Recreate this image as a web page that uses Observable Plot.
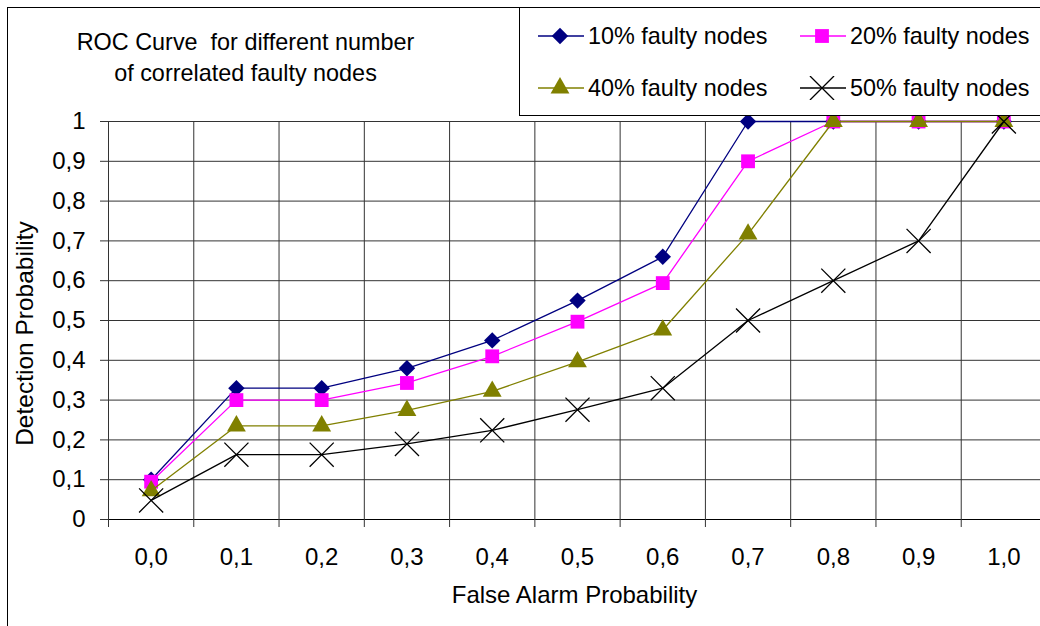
<!DOCTYPE html>
<html>
<head>
<meta charset="utf-8">
<script src="https://cdn.jsdelivr.net/npm/d3@7"></script>
<script src="https://cdn.jsdelivr.net/npm/@observablehq/plot@0.6"></script>
<style>
html, body { margin: 0; padding: 0; background: #fff; overflow: hidden; }
#wrap { position: relative; width: 1040px; height: 626px; overflow: hidden; font-family: "Liberation Sans", Arial, sans-serif; }
#frame { position: absolute; left: 7px; top: 7px; width: 1200px; height: 800px; border-left: 1px solid #000; border-top: 1px solid #000; box-sizing: border-box; }
#chart { position: absolute; left: 0; top: 0; }
#legend { position: absolute; left: 519px; top: 7px; width: 600px; height: 109px; border: 1px solid #000; box-sizing: border-box; background: #fff; }
.item { position: absolute; height: 24px; display: flex; align-items: center; font-size: 23.4px; color: #000; white-space: nowrap; }
.item svg { margin-right: 4px; }
</style>
</head>
<body>
<div id="wrap">
  <div id="frame"></div>
  <div id="chart"></div>
  <div id="legend"></div>
</div>
<script>
// ---- data ----
const falseAlarm = [0.0, 0.1, 0.2, 0.3, 0.4, 0.5, 0.6, 0.7, 0.8, 0.9, 1.0];
const seriesNames = ["10% faulty nodes", "20% faulty nodes", "40% faulty nodes", "50% faulty nodes"];
const det10 = [0.10, 0.33, 0.33, 0.38, 0.45, 0.55, 0.66, 1.00, 1.00, 1.00, 1.00];
const det20 = [0.095, 0.30, 0.30, 0.343, 0.41, 0.497, 0.594, 0.90, 1.00, 1.00, 1.00];
const det40 = [0.072, 0.235, 0.235, 0.274, 0.322, 0.396, 0.476, 0.717, 1.00, 1.00, 1.00];
const det50 = [0.048, 0.163, 0.163, 0.19, 0.224, 0.276, 0.33, 0.50, 0.60, 0.70, 1.00];
const yTicks = [0, 0.1, 0.2, 0.3, 0.4, 0.5, 0.6, 0.7, 0.8, 0.9, 1];
const xBoundaries = [-0.05, 0.05, 0.15, 0.25, 0.35, 0.45, 0.55, 0.65, 0.75, 0.85, 0.95];
const titleText = "ROC Curve  for different number\nof correlated faulty nodes";
const xTitle = "False Alarm Probability";
const yTitle = "Detection Probability";

const styles = [
  {color: "#000080", symbol: "diamond2", r: 7.4, filled: true},
  {color: "#FF00FF", symbol: "square", r: 7.8, filled: true},
  {color: "#808000", symbol: "triangle", r: 7.0, filled: true},
  {color: "#000000", symbol: "times", r: 11, filled: false}
];
const allSeries = [det10, det20, det40, det50];

const fmtX = d => d.toFixed(1).replace(".", ",");
const fmtY = d => String(+d.toFixed(1)).replace(".", ",");

const marks = [
  Plot.gridY(yTicks, {stroke: "#333", strokeOpacity: 1, strokeWidth: 1}),
  Plot.gridX(xBoundaries, {stroke: "#333", strokeOpacity: 1, strokeWidth: 1}),
  Plot.ruleY([0], {stroke: "#000", strokeWidth: 1}),
  Plot.axisY({ticks: yTicks, tickSize: 8, tickPadding: 15, tickFormat: fmtY, label: null, stroke: "#333", fontSize: 24}),
  Plot.axisX({ticks: xBoundaries, tickSize: 8, tickFormat: () => "", label: null, stroke: "#333"}),
  Plot.axisX({ticks: falseAlarm, tickSize: 0, tickPadding: 28, tickFormat: fmtX, label: null, fontSize: 24}),
  Plot.text([xTitle], {frameAnchor: "bottom", dy: 83, lineAnchor: "bottom", textAnchor: "middle", fontSize: 24}),
  Plot.text([yTitle], {frameAnchor: "left", dx: -83, dy: 13, rotate: -90, lineAnchor: "middle", textAnchor: "middle", fontSize: 24.5}),
  Plot.text([titleText], {frameAnchor: "top-left", dx: 137, dy: -41, lineAnchor: "bottom", textAnchor: "middle", lineHeight: 1.3, fontSize: 23.4})
];

allSeries.forEach((vals, i) => {
  const s = styles[i];
  const rows = falseAlarm.map((x, j) => ({x, y: vals[j]}));
  marks.push(Plot.line(rows, {x: "x", y: "y", stroke: s.color, strokeWidth: 1.3}));
  marks.push(Plot.dot(rows, {
    x: "x", y: "y", symbol: s.symbol, r: s.r,
    fill: s.filled ? s.color : "none",
    stroke: s.filled ? "none" : s.color,
    strokeWidth: s.filled ? 0 : 1.3
  }));
});

const chart = Plot.plot({
  width: 1040,
  height: 626,
  marginLeft: 108,
  marginRight: 0,
  marginTop: 121,
  marginBottom: 107,
  style: {fontFamily: "'Liberation Sans', Arial, sans-serif", fontSize: "24px", background: "transparent", color: "#000", overflow: "hidden"},
  x: {type: "linear", domain: [-0.05, 1.05], range: [108, 1046]},
  y: {type: "linear", domain: [0, 1], range: [519, 121]},
  marks
});
document.getElementById("chart").appendChild(chart);

// ---- legend ----
const legend = document.getElementById("legend");
const positions = [[18, 16], [280, 16], [18, 68], [280, 68]];
seriesNames.forEach((name, i) => {
  const s = styles[i];
  const item = document.createElement("div");
  item.className = "item";
  item.style.left = positions[i][0] + "px";
  item.style.top = positions[i][1] + "px";
  const sym = d3.symbol(
    {diamond2: d3.symbolDiamond2, square: d3.symbolSquare, triangle: d3.symbolTriangle, times: d3.symbolTimes}[s.symbol],
    Math.PI * s.r * s.r
  )();
  item.innerHTML =
    `<svg width="46" height="24" viewBox="0 0 46 24">` +
    `<line x1="0" x2="46" y1="12" y2="12" stroke="${s.color}" stroke-width="1.3"/>` +
    `<path transform="translate(22,12)" d="${sym}" fill="${s.filled ? s.color : "none"}" stroke="${s.filled ? "none" : s.color}" stroke-width="1.3"/>` +
    `</svg><span>${name}</span>`;
  legend.appendChild(item);
});
</script>
</body>
</html>
